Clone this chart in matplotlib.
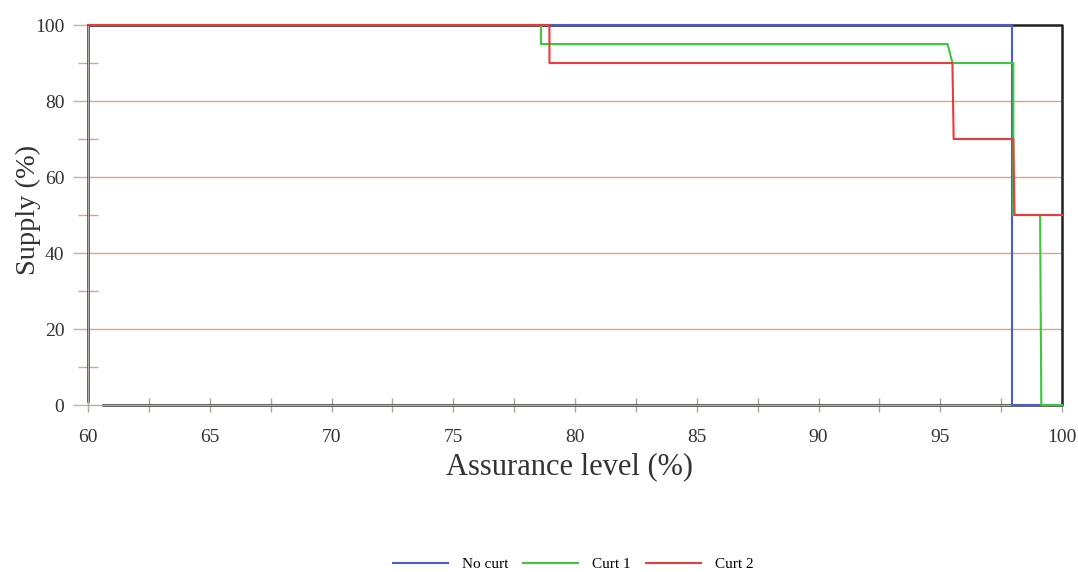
import matplotlib
matplotlib.use("Agg")
import matplotlib.pyplot as plt
from matplotlib.ticker import MultipleLocator

plt.rcParams['font.family'] = ['Liberation Serif', 'DejaVu Serif']

# Step curves: supply (%) versus assurance level (%)
no_curt_x = [60, 97.95, 97.95, 100]
no_curt_y = [100, 100, 0, 0]

curt1_x = [60, 78.6, 78.6, 95.3, 95.5, 98.0, 98.0, 99.1, 99.15, 100]
curt1_y = [100, 100, 95, 95, 90, 90, 50, 50, 0, 0]

curt2_x = [60, 78.95, 78.95, 95.5, 95.55, 98.0, 98.05, 100]
curt2_y = [100, 100, 90, 90, 70, 70, 50, 50]

# Outline envelope drawn around the plotting region
frame_x = [60.6, 100, 100, 60, 60]
frame_y = [0, 0, 100, 100, 1]

x_ticks = [60, 65, 70, 75, 80, 85, 90, 95, 100]
y_ticks = [0, 20, 40, 60, 80, 100]
series_labels = ["No curt", "Curt 1", "Curt 2"]

fig = plt.figure(figsize=(10.78, 5.72), dpi=100)
ax = fig.add_axes([88 / 1078, 1 - 405 / 572, (1062 - 88) / 1078, (405 - 25) / 572])

for y in [20, 40, 60, 80]:
    ax.axhline(y, color="#d4a890", lw=1.0, zorder=1)

ax.plot(frame_x, frame_y, color="#202020", lw=1.8, zorder=2, clip_on=False)
l1, = ax.plot(no_curt_x, no_curt_y, color="#4c5cc8", lw=1.5, zorder=3, clip_on=False)
l2, = ax.plot(curt1_x, curt1_y, color="#3cc83c", lw=1.5, zorder=4, clip_on=False)
l3, = ax.plot(curt2_x, curt2_y, color="#e83c3c", lw=1.5, zorder=5, clip_on=False)

ax.set_xlim(60, 100)
ax.set_ylim(0, 100)
ax.set_xticks(x_ticks)
ax.set_yticks(y_ticks)
ax.xaxis.set_minor_locator(MultipleLocator(2.5))
ax.yaxis.set_minor_locator(MultipleLocator(10))

for s in ["top", "right"]:
    ax.spines[s].set_visible(False)
for s in ["left", "bottom"]:
    ax.spines[s].set_color("#b0b0a8")
    ax.spines[s].set_linewidth(1.0)

ax.tick_params(axis="y", which="major", direction="out", length=11, width=1,
               color="#c8b0a0", labelsize=14, pad=6, labelcolor="#333333")
ax.tick_params(axis="y", which="minor", direction="inout", length=14, width=1,
               color="#c8a8a0")
ax.tick_params(axis="x", which="both", direction="inout", length=10, width=1,
               color="#a8a8a0", labelsize=14, pad=12, labelcolor="#333333")

ax.set_ylabel("Supply (%)", fontsize=20.5, color="#333333", va="center")
ax.yaxis.set_label_coords((28 - 88) / 974, (405 - 210) / 380)
ax.set_xlabel("Assurance level (%)", fontsize=22, color="#333333", va="center")
ax.xaxis.set_label_coords((570 - 88) / 974, (405 - 467) / 380)

fig.legend([l1, l2, l3], series_labels, loc="center", bbox_to_anchor=(573 / 1078, 1 - 564 / 572),
           ncol=3, frameon=False, fontsize=11, handlelength=3.6, columnspacing=1.0,
           handletextpad=0.9)

fig.savefig("out.png", dpi=100)
